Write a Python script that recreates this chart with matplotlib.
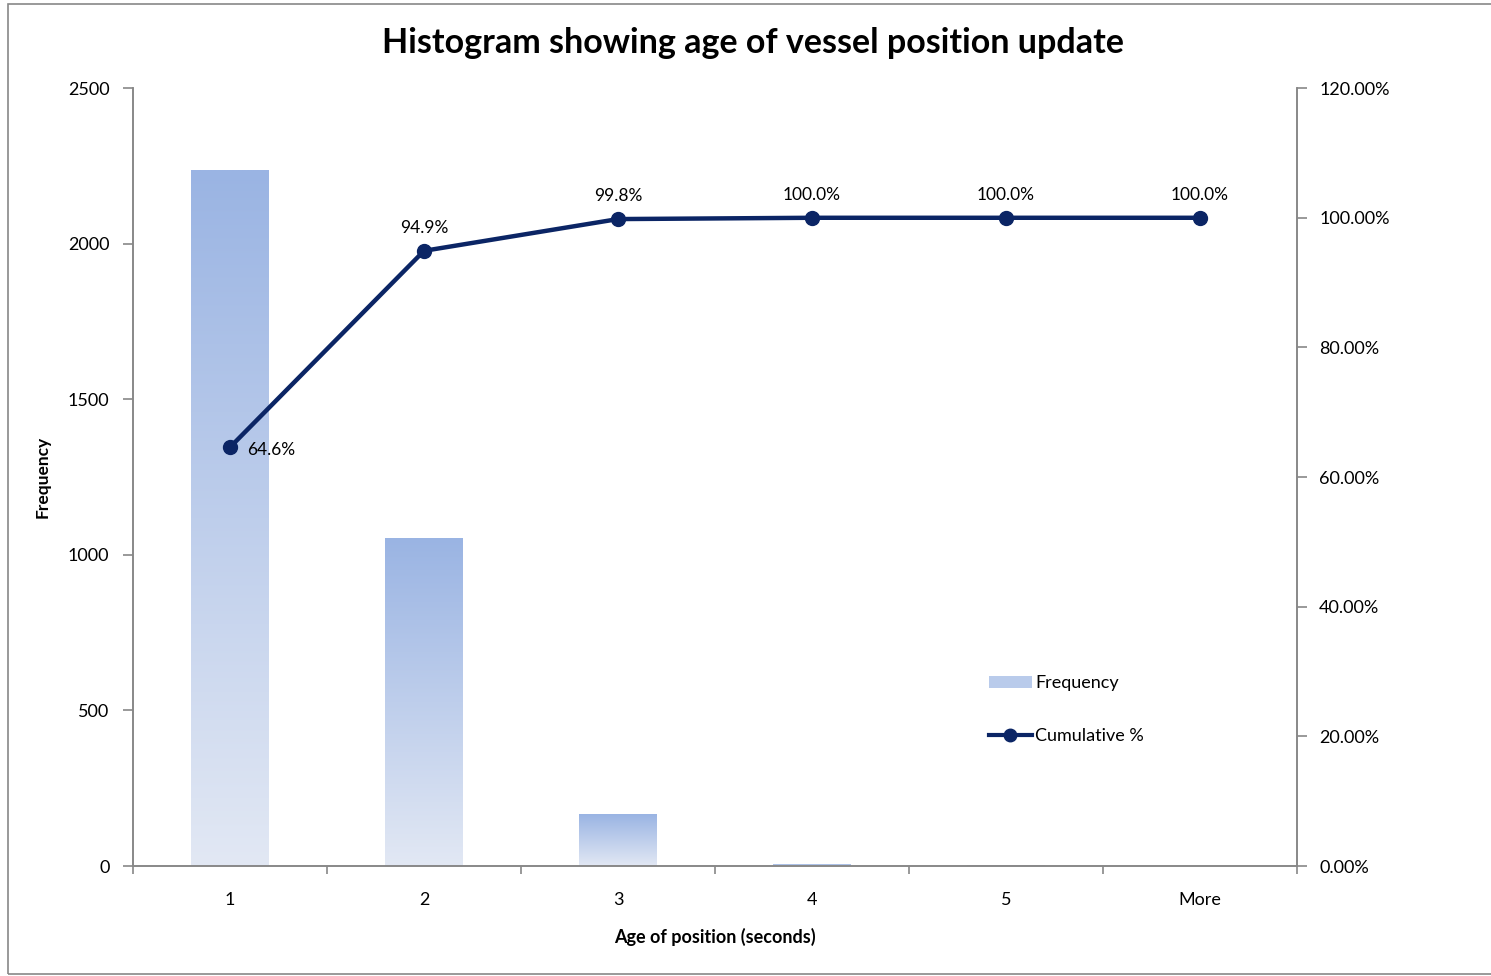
import matplotlib.pyplot as plt
import numpy as np
from matplotlib.colors import LinearSegmentedColormap
from matplotlib.patches import Patch, Rectangle
from matplotlib.lines import Line2D
from matplotlib.ticker import FuncFormatter

plt.rcParams['font.family'] = ['Lato', 'DejaVu Sans']

categories = ['1', '2', '3', '4', '5', 'More']
frequency = [2236, 1051, 167, 6, 3, 0]
cumulative = [64.6, 94.9, 99.8, 100.0, 100.0, 100.0]
cum_labels = ['64.6%', '94.9%', '99.8%', '100.0%', '100.0%', '100.0%']

navy = '#0B2565'
grey = '#888888'
cmap = LinearSegmentedColormap.from_list('bar', ['#E2E8F4', '#9AB4E3'])

fig = plt.figure(figsize=(14.91, 9.76), dpi=100)
ax = fig.add_axes([0.0892, 0.1127, 0.7807, 0.797])
ax2 = ax.twinx()

x = np.arange(len(categories))
w = 0.4
grad = np.linspace(0, 1, 256).reshape(-1, 1)
for xi, h in zip(x, frequency):
    if h <= 0:
        continue
    ax.imshow(grad, cmap=cmap, origin='lower', aspect='auto',
              extent=[xi - w / 2, xi + w / 2, 0, h], zorder=2)

ax.set_xlim(-0.5, len(categories) - 0.5)
ax.set_ylim(0, 2500)
ax.set_yticks(np.arange(0, 2501, 500))
ax.set_xticks(x)
ax.set_xticklabels(categories)
ax.set_xticks(np.arange(-0.5, len(categories) + 0.5, 1), minor=True)
ax.tick_params(axis='x', which='major', length=0, pad=19, labelsize=13)
ax.tick_params(axis='x', which='minor', length=6, color=grey, width=1.2)
ax.tick_params(axis='y', length=7, color=grey, width=1.2, labelsize=13, pad=10)

ax2.plot(x, cumulative, color=navy, lw=3.2, marker='o', ms=10, zorder=5)
ax2.set_ylim(0, 120)
ax2.set_yticks(np.arange(0, 121, 20))
ax2.yaxis.set_major_formatter(FuncFormatter(lambda v, p: f'{v:.2f}%'))
ax2.tick_params(axis='y', length=7, color=grey, width=1.2, labelsize=13, pad=9)

for i, (xi, c, lab) in enumerate(zip(x, cumulative, cum_labels)):
    if i == 0:
        ax2.annotate(lab, (xi, c), xytext=(12, -2), textcoords='offset points',
                     ha='left', va='center', fontsize=12.5)
    else:
        ax2.annotate(lab, (xi, c), xytext=(0, 11), textcoords='offset points',
                     ha='center', va='bottom', fontsize=12.5)

for a in (ax, ax2):
    a.spines['top'].set_visible(False)
    for s in ('left', 'right', 'bottom'):
        a.spines[s].set_color(grey)
        a.spines[s].set_linewidth(1.2)

ax.set_xlabel('Age of position (seconds)', fontsize=13, fontweight='bold', labelpad=14)
ax.set_ylabel('Frequency', fontsize=12.5, fontweight='bold', labelpad=12)
fig.text(0.505, 0.956, 'Histogram showing age of vessel position update',
         ha='center', va='center', fontsize=24.5, fontweight='bold')

handles = [Patch(facecolor='#B9CBEB', edgecolor='none'),
           Line2D([0], [0], color=navy, lw=3, marker='o', ms=9)]
leg = ax.legend(handles, ['Frequency', 'Cumulative %'], loc='upper left',
                bbox_to_anchor=(0.735, 0.245), frameon=False, fontsize=13,
                labelspacing=2.05, handlelength=2.4, handletextpad=0.2,
                borderpad=0, borderaxespad=0)

fig.patches.append(Rectangle((8 / 1491, 2 / 976), 1.0, 970 / 976,
                             transform=fig.transFigure, fill=False,
                             edgecolor=grey, lw=1.2))

fig.savefig('out.png', dpi=100)
